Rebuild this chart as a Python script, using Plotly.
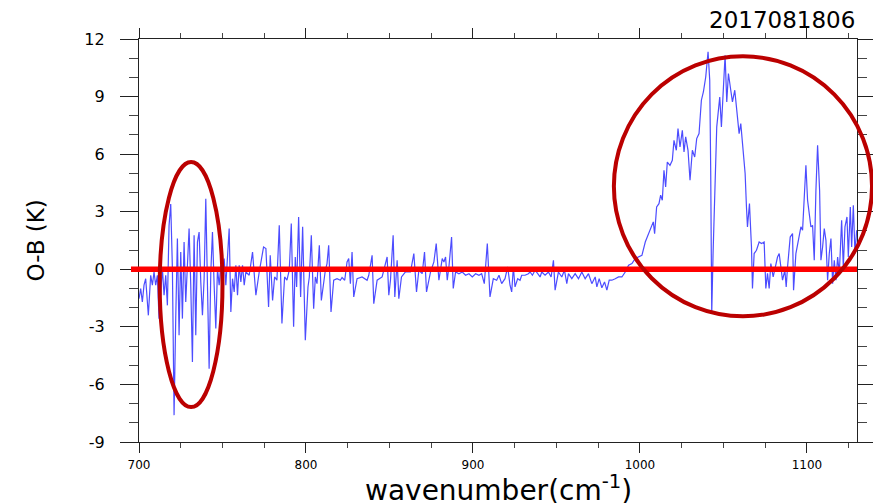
import plotly.graph_objects as go

# O-B departures (K) per channel, split by spectral band
wn_lw = [700.0, 701.0, 702.0, 703.0, 704.0, 705.6, 707.0, 708.0, 709.0, 710.0,
         711.0, 712.0, 714.0, 715.0, 716.0, 717.0, 718.0, 719.0, 720.0, 721.0,
         722.0, 723.0, 724.0, 725.0, 726.0, 727.0, 728.0, 729.0, 730.0, 731.0,
         732.0, 733.0, 734.0, 735.0, 736.0, 737.0, 738.0, 739.0, 740.0, 741.0,
         742.0, 743.0, 744.0, 745.0, 746.0, 747.0, 748.0, 749.0, 750.0, 751.0,
         752.0, 754.0, 755.0, 756.0, 757.0, 758.0, 759.0, 760.0, 761.0, 762.0,
         763.0, 764.0, 766.0, 768.0, 770.0, 772.0, 774.6, 776.0, 777.6, 778.6,
         780.0, 781.2, 782.6, 784.0, 785.6, 787.2, 788.6, 790.0, 791.2, 792.6,
         793.6, 794.4, 795.6, 796.8, 798.0, 799.6, 801.2, 802.0, 803.2, 804.6,
         805.6, 806.6, 808.0, 809.2, 810.6, 811.6, 812.6, 813.6, 815.0, 816.6,
         818.6, 820.6, 821.6, 823.2, 824.6, 825.6, 826.6, 827.6, 828.6, 830.6,
         833.6, 836.6, 837.6, 839.6, 840.6, 842.6, 845.6, 848.6, 849.6, 850.6,
         852.2, 853.2, 854.6, 855.6, 857.2]
ob_lw = [-1.53, -1.0, -1.7, -0.83, -0.49, -2.4, -0.31, -0.83, -0.14, -0.83,
         -0.31, -2.57, 0.04, -1.35, -0.31, -1.88, 2.29, 3.4, 0.04, -7.6,
         -2.57, 1.6, -3.44, 0.9, -2.57, 1.42, -1.7, 0.38, 2.12, -0.83,
         -4.83, 1.77, -3.44, 1.42, 1.94, -0.66, -2.4, -0.49, 3.68, -0.83,
         -5.18, -0.14, 1.94, -0.83, -3.09, 0.04, -0.83, 0.21, -0.49, 0.56,
         -0.83, 2.12, -2.22, -0.49, -1.18, 0.21, -1.35, 0.21, -0.66, 0.21,
         -0.83, -0.14, -0.31, 0.9, -1.35, -0.14, 1.16, 1.08, -1.96, 0.73,
         -1.62, -0.4, -0.57, 2.29, -2.83, -0.4, -0.57, -0.05, 2.38, -3.0,
         0.64, -0.92, 2.73, -1.44, 2.21, -3.7, -0.92, -0.4, 1.77, -2.05,
         -0.4, -0.75, 1.25, -1.62, -0.57, -0.05, 0.3, 1.25, -2.22, -0.57,
         -0.49, -0.57, -0.43, -0.57, 0.38, 0.56, -0.75, 0.9, -1.44, -0.49,
         -0.4, -0.57, -0.31, 0.73, -1.79, -0.57, -0.4, 0.64, -1.35, -0.57,
         1.77, -1.44, 0.47, -1.53, -0.4]

wn_win = [859.6, 862.6, 864.6, 866.2, 867.6, 869.6, 871.0, 872.2, 874.6, 876.6,
          878.0, 879.6, 881.6, 882.6, 883.6, 884.6, 885.6, 887.2, 888.2, 889.6,
          891.6, 893.6, 895.6, 897.6, 899.6, 901.6, 903.6, 905.2, 906.8, 908.6,
          910.2, 912.2, 914.2, 915.6, 917.2, 919.2, 920.8, 922.2, 923.2, 924.2,
          925.2, 926.8, 928.2, 929.2, 931.2, 933.2, 934.2, 935.6, 937.2, 938.8,
          940.2, 941.2, 943.2, 945.2, 946.8, 948.2, 949.2, 951.2, 953.2, 954.8,
          956.2, 957.2, 959.2, 961.2, 963.2, 965.2, 967.2, 969.2, 971.2, 973.2,
          974.2, 975.6, 977.2, 978.8, 980.2, 981.6, 983.2, 985.2, 987.2, 989.2,
          991.2, 993.2, 995.2, 997.2, 999.2, 1001.2, 1003.2]
ob_win = [-0.14, -0.14, 0.82, -1.18, -0.05, -0.23, 0.9, -1.18, -0.14, 0.38,
          1.34, -0.57, 0.56, 0.38, 0.64, -0.57, 0.12, 1.68, -1.0, -0.14,
          -0.23, -0.14, -0.31, -0.23, -0.4, -0.23, -0.31, -0.23, -0.75, 1.34,
          -1.44, -0.49, -0.57, -0.31, -0.75, -0.49, 0.12, -0.83, -1.18, 0.12,
          -0.92, -0.49, -0.57, -0.31, -0.31, -0.23, -0.14, -0.31, -0.05, -0.23,
          -0.4, -0.14, -0.31, -0.14, -0.4, 0.47, -1.09, -0.14, -0.4, -0.05,
          -0.75, -0.23, -0.49, -0.23, -0.49, -0.14, -0.49, -0.23, -0.75, -0.4,
          -0.92, -0.49, -0.96, -0.66, -1.09, -0.57, -0.57, -0.49, -0.4, -0.4,
          -0.14, 0.21, 0.3, 0.56, 0.64, 0.73, 1.42]

wn_o3 = [1004.4, 1006.4, 1008.0, 1008.8, 1010.0, 1011.4, 1012.4, 1013.4, 1014.4, 1015.4,
         1016.4, 1018.0, 1019.4, 1020.4, 1021.8, 1022.8, 1024.0, 1025.4, 1026.4, 1027.4,
         1028.8, 1030.0, 1031.4, 1032.8, 1034.0, 1035.4, 1036.8, 1038.0, 1039.4, 1040.8,
         1041.8, 1042.4, 1043.0, 1043.8, 1044.8, 1046.0, 1046.8, 1047.8, 1048.8, 1050.0,
         1051.0, 1052.0, 1053.0, 1054.4, 1055.4, 1056.8, 1058.0, 1059.4, 1060.4, 1061.8,
         1063.0, 1063.8, 1064.4, 1065.6, 1066.8, 1067.4, 1068.4, 1069.8, 1071.4, 1072.8,
         1074.4, 1075.4, 1076.4, 1077.4, 1078.4, 1079.8, 1080.8, 1082.4, 1083.4, 1084.4,
         1085.4, 1086.8, 1087.6, 1088.4, 1090.0, 1091.4, 1092.0, 1093.4, 1094.4, 1095.4,
         1096.4, 1097.4, 1098.4, 1099.4, 1100.4, 1101.4, 1102.4, 1103.4, 1104.4, 1105.4,
         1106.4, 1107.6, 1108.4, 1109.4, 1110.4, 1111.4, 1112.4, 1113.4, 1114.4, 1115.4,
         1116.4, 1117.4, 1118.4, 1119.4, 1120.8, 1121.8, 1122.8, 1124.0, 1124.8, 1126.0,
         1126.8, 1127.8, 1128.8, 1129.8]
ob_o3 = [1.68, 2.21, 2.47, 1.86, 3.25, 3.42, 3.86, 3.6, 5.16, 4.29,
         5.59, 5.42, 5.68, 6.72, 6.2, 7.33, 6.37, 7.24, 6.11, 6.9,
         6.2, 4.64, 6.2, 5.85, 6.81, 7.07, 8.81, 9.24, 10.02, 11.33,
         9.85, 4.99, -2.31, 0.82, 4.12, 7.42, 8.11, 8.98, 7.42, 9.33,
         11.15, 8.72, 10.2, 9.33, 8.72, 9.33, 8.2, 7.07, 7.59, 6.2,
         4.99, 3.25, 2.21, 3.42, 1.16, -1.0, 0.82, 0.99, 1.42, 1.34,
         1.42, -1.0, -0.21, -1.0, 0.3, -0.4, -0.05, 0.64, 0.82, 0.12,
         -0.57, -0.05, -0.92, 0.12, 1.68, 1.86, -1.09, 0.82, 1.34, 1.86,
         2.21, 2.03, 3.6, 5.42, 3.6, 2.73, 2.21, 2.29, 0.47, 4.12,
         6.46, 4.12, 0.47, 1.16, 2.12, 1.51, -0.57, 0.82, 1.6, -0.75,
         0.47, -0.57, 0.64, -0.23, 2.55, 0.12, 2.21, 2.73, 0.64, 3.25,
         1.16, 3.33, 0.82, 2.03]

wavenumber = wn_lw + wn_win + wn_o3
omb = ob_lw + ob_win + ob_o3

X_RANGE = [700, 1130]
Y_RANGE = [-9, 12]
x_ticks = [700, 800, 900, 1000, 1100]
y_ticks = [-9, -6, -3, 0, 3, 6, 9, 12]
y_tick_text = [str(v) for v in y_ticks]

# highlighted regions (data units): x extent, y extent
highlight_co2 = dict(x=(712.4, 750.0), y=(-7.18, 5.59))
highlight_o3 = dict(x=(984.4, 1139.0), y=(-2.45, 11.1))


def px_x(v):
    return (v - X_RANGE[0]) / (X_RANGE[1] - X_RANGE[0])


def px_y(v):
    return (v - Y_RANGE[0]) / (Y_RANGE[1] - Y_RANGE[0])


fig = go.Figure()
fig.add_trace(go.Scatter(
    x=wavenumber, y=omb, mode="lines",
    line=dict(color="rgba(45,45,255,0.85)", width=1.2),
    showlegend=False,
))

shapes = [
    dict(type="line", xref="paper", yref="paper",
         x0=px_x(695.2), x1=px_x(1130), y0=px_y(0), y1=px_y(0),
         line=dict(color="#ff0000", width=5.5)),
]
for h in (highlight_co2, highlight_o3):
    shapes.append(dict(
        type="circle", xref="paper", yref="paper",
        x0=px_x(h["x"][0]), x1=px_x(h["x"][1]),
        y0=px_y(h["y"][0]), y1=px_y(h["y"][1]),
        line=dict(color="#bb0000", width=4),
    ))

axis_common = dict(
    showline=True, linecolor="#222", linewidth=1.3, mirror="ticks",
    ticks="outside", tickcolor="#222", showgrid=False, zeroline=False,
    automargin=False,
)

fig.update_layout(
    width=873, height=503, autosize=False,
    margin=dict(l=139, r=16, t=39, b=61),
    paper_bgcolor="white", plot_bgcolor="white",
    font=dict(family="DejaVu Sans", color="black"),
    shapes=shapes,
    xaxis=dict(
        range=X_RANGE, tickvals=x_ticks, ticklen=10, tickwidth=1.2,
        tickfont=dict(size=12, family="DejaVu Sans"), ticklabelstandoff=1,
        minor=dict(dtick=25, tick0=700, ticklen=5, ticks="outside", tickcolor="#444"),
        **axis_common,
    ),
    yaxis=dict(
        range=Y_RANGE, tickvals=y_ticks, ticktext=y_tick_text, ticklen=18, tickwidth=1.2,
        tickfont=dict(size=16, family="DejaVu Sans"), ticklabelstandoff=12,
        minor=dict(dtick=1, tick0=0, ticklen=9, ticks="outside", tickcolor="#444"),
        **axis_common,
    ),
    annotations=[
        dict(text="wavenumber(cm<sup>-1</sup>)", xref="paper", yref="paper",
             x=0.5, y=0, xanchor="center", yanchor="top", yshift=-27,
             borderpad=0, showarrow=False, font=dict(size=28, family="DejaVu Sans")),
        dict(text="O-B (K)", xref="paper", yref="paper", textangle=-90,
             x=0, y=px_y(1.5), xanchor="center", yanchor="middle", xshift=-104,
             showarrow=False, font=dict(size=23, family="DejaVu Sans")),
        dict(text="2017081806", xref="paper", yref="paper",
             x=1, y=1, xanchor="right", yanchor="middle", yshift=19,
             showarrow=False, font=dict(size=23, family="DejaVu Sans")),
    ],
)

fig.write_html("out.html", config={"responsive": False})
